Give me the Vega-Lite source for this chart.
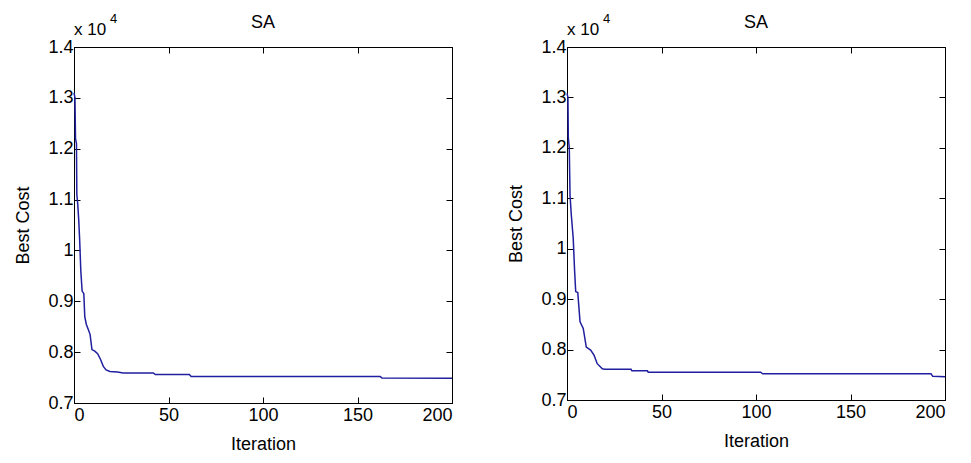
{
  "$schema": "https://vega.github.io/schema/vega-lite/v6.json",
  "background": "white",
  "padding": {"left": 14, "top": 12, "right": 0, "bottom": 0},
  "datasets": {
    "left": [
      {"Iteration": 0, "BestCost": 1.31},
      {"Iteration": 0.5, "BestCost": 1.30},
      {"Iteration": 0.8, "BestCost": 1.22},
      {"Iteration": 1.3, "BestCost": 1.21},
      {"Iteration": 1.5, "BestCost": 1.11},
      {"Iteration": 2, "BestCost": 1.09},
      {"Iteration": 2.5, "BestCost": 1.06},
      {"Iteration": 3, "BestCost": 1.02},
      {"Iteration": 3.6, "BestCost": 0.96},
      {"Iteration": 4.3, "BestCost": 0.92},
      {"Iteration": 5.2, "BestCost": 0.915},
      {"Iteration": 5.7, "BestCost": 0.87},
      {"Iteration": 6.5, "BestCost": 0.855},
      {"Iteration": 7.5, "BestCost": 0.845},
      {"Iteration": 8.5, "BestCost": 0.835},
      {"Iteration": 9.5, "BestCost": 0.805},
      {"Iteration": 11, "BestCost": 0.802},
      {"Iteration": 12.5, "BestCost": 0.797},
      {"Iteration": 14, "BestCost": 0.786},
      {"Iteration": 15.5, "BestCost": 0.772},
      {"Iteration": 17, "BestCost": 0.765},
      {"Iteration": 19, "BestCost": 0.762},
      {"Iteration": 23, "BestCost": 0.761},
      {"Iteration": 26, "BestCost": 0.759},
      {"Iteration": 42, "BestCost": 0.759},
      {"Iteration": 43, "BestCost": 0.756},
      {"Iteration": 61, "BestCost": 0.756},
      {"Iteration": 62, "BestCost": 0.752},
      {"Iteration": 162, "BestCost": 0.752},
      {"Iteration": 163, "BestCost": 0.749},
      {"Iteration": 200, "BestCost": 0.7485}
    ],
    "right": [
      {"Iteration": 0, "BestCost": 1.308},
      {"Iteration": 0.5, "BestCost": 1.30},
      {"Iteration": 0.7, "BestCost": 1.22},
      {"Iteration": 1.2, "BestCost": 1.20},
      {"Iteration": 1.6, "BestCost": 1.106},
      {"Iteration": 2.3, "BestCost": 1.066},
      {"Iteration": 3.3, "BestCost": 1.02},
      {"Iteration": 4, "BestCost": 0.958},
      {"Iteration": 4.6, "BestCost": 0.915},
      {"Iteration": 5.7, "BestCost": 0.913},
      {"Iteration": 6.9, "BestCost": 0.855},
      {"Iteration": 8.6, "BestCost": 0.842},
      {"Iteration": 10.2, "BestCost": 0.805},
      {"Iteration": 12.5, "BestCost": 0.799},
      {"Iteration": 14.3, "BestCost": 0.789},
      {"Iteration": 16, "BestCost": 0.772},
      {"Iteration": 18.7, "BestCost": 0.762},
      {"Iteration": 20, "BestCost": 0.761},
      {"Iteration": 33.9, "BestCost": 0.761},
      {"Iteration": 34.3, "BestCost": 0.758},
      {"Iteration": 42.5, "BestCost": 0.758},
      {"Iteration": 43, "BestCost": 0.755},
      {"Iteration": 102.5, "BestCost": 0.755},
      {"Iteration": 103.5, "BestCost": 0.752},
      {"Iteration": 192.6, "BestCost": 0.752},
      {"Iteration": 193.5, "BestCost": 0.747},
      {"Iteration": 200, "BestCost": 0.746}
    ],
    "note": [{"base": "x 10", "exp": "4"}]
  },
  "hconcat": [
    {
      "width": 378,
      "height": 356,
      "title": "SA",
      "data": {"name": "left"},
      "layer": [
        {
          "mark": {"type": "line", "color": "#1f1f9f", "strokeWidth": 1.5},
          "encoding": {
            "x": {"field": "Iteration", "type": "quantitative", "scale": {"domain": [0, 200], "nice": false}, "axis": {"values": [0, 50, 100, 150, 200], "title": "Iteration"}},
            "y": {"field": "BestCost", "type": "quantitative", "scale": {"domain": [0.7, 1.4], "nice": false, "zero": false}, "axis": {"values": [0.7, 0.8, 0.9, 1, 1.1, 1.2, 1.3, 1.4], "format": "~g", "title": "Best Cost"}}
          }
        },
        {
          "mark": {"type": "line", "opacity": 0},
          "encoding": {
            "x": {"field": "Iteration", "type": "quantitative", "axis": {"orient": "top", "values": [0, 50, 100, 150, 200], "labels": false, "title": null}},
            "y": {"field": "BestCost", "type": "quantitative", "axis": {"orient": "right", "values": [0.7, 0.8, 0.9, 1, 1.1, 1.2, 1.3, 1.4], "labels": false, "title": null}}
          }
        },
        {
          "data": {"name": "note"},
          "mark": {"type": "text", "align": "left", "baseline": "alphabetic", "dy": -12, "fontSize": 17},
          "encoding": {
            "text": {"field": "base"},
            "x": {"datum": 0, "type": "quantitative", "axis": null},
            "y": {"datum": 1.4, "type": "quantitative", "axis": null}
          }
        },
        {
          "data": {"name": "note"},
          "mark": {"type": "text", "align": "left", "baseline": "alphabetic", "dx": 36, "dy": -24, "fontSize": 13},
          "encoding": {
            "text": {"field": "exp"},
            "x": {"datum": 0, "type": "quantitative", "axis": null},
            "y": {"datum": 1.4, "type": "quantitative", "axis": null}
          }
        }
      ],
      "resolve": {"axis": {"x": "independent", "y": "independent"}}
    },
    {
      "width": 378,
      "height": 353,
      "title": "SA",
      "data": {"name": "right"},
      "layer": [
        {
          "mark": {"type": "line", "color": "#1f1f9f", "strokeWidth": 1.5},
          "encoding": {
            "x": {"field": "Iteration", "type": "quantitative", "scale": {"domain": [0, 200], "nice": false}, "axis": {"values": [0, 50, 100, 150, 200], "title": "Iteration"}},
            "y": {"field": "BestCost", "type": "quantitative", "scale": {"domain": [0.7, 1.4], "nice": false, "zero": false}, "axis": {"values": [0.7, 0.8, 0.9, 1, 1.1, 1.2, 1.3, 1.4], "format": "~g", "title": "Best Cost"}}
          }
        },
        {
          "mark": {"type": "line", "opacity": 0},
          "encoding": {
            "x": {"field": "Iteration", "type": "quantitative", "axis": {"orient": "top", "values": [0, 50, 100, 150, 200], "labels": false, "title": null}},
            "y": {"field": "BestCost", "type": "quantitative", "axis": {"orient": "right", "values": [0.7, 0.8, 0.9, 1, 1.1, 1.2, 1.3, 1.4], "labels": false, "title": null}}
          }
        },
        {
          "data": {"name": "note"},
          "mark": {"type": "text", "align": "left", "baseline": "alphabetic", "dy": -12, "fontSize": 17},
          "encoding": {
            "text": {"field": "base"},
            "x": {"datum": 0, "type": "quantitative", "axis": null},
            "y": {"datum": 1.4, "type": "quantitative", "axis": null}
          }
        },
        {
          "data": {"name": "note"},
          "mark": {"type": "text", "align": "left", "baseline": "alphabetic", "dx": 36, "dy": -24, "fontSize": 13},
          "encoding": {
            "text": {"field": "exp"},
            "x": {"datum": 0, "type": "quantitative", "axis": null},
            "y": {"datum": 1.4, "type": "quantitative", "axis": null}
          }
        }
      ],
      "resolve": {"axis": {"x": "independent", "y": "independent"}}
    }
  ],
  "spacing": 51,
  "config": {
    "font": "Liberation Sans",
    "view": {"stroke": "black", "strokeWidth": 1},
    "text": {"font": "Liberation Sans", "color": "black"},
    "axis": {
      "labelFont": "Liberation Sans",
      "labelFontSize": 18,
      "labelColor": "black",
      "titleFont": "Liberation Sans",
      "titleFontSize": 18,
      "titleFontWeight": "normal",
      "titleColor": "black",
      "domainColor": "black",
      "tickColor": "black",
      "tickSize": -6,
      "labelPadding": 7,
      "titlePadding": 15,
      "grid": false
    },
    "axisX": {"titlePadding": 11, "labelPadding": 9},
    "title": {"font": "Liberation Sans", "fontSize": 18, "fontWeight": "normal", "color": "black", "offset": -19, "frame": "group"}
  }
}
